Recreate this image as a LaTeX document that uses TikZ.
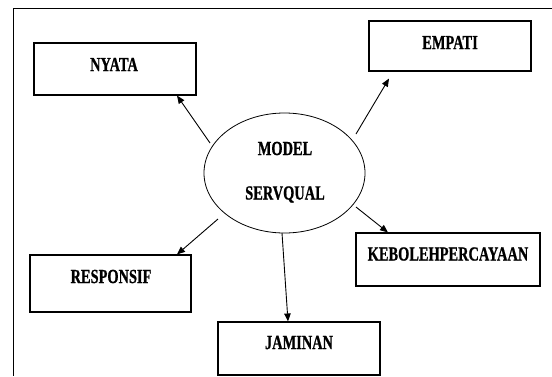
\documentclass[tikz,border=0pt]{standalone}
\usepackage{fontspec}
\setmainfont{Liberation Serif}
\newfontfamily\labfont[FakeStretch=0.72, FakeBold=0.8, UprightFont=* Bold]{Liberation Serif}
\usetikzlibrary{arrows.meta,shapes.geometric}
\tikzset{
  boxnode/.style={draw, line width=1.1pt, minimum width=#1, inner sep=0pt},
  lab/.style={font=\labfont\fontsize{20}{22}\selectfont, inner sep=0pt, anchor=center},
  arr/.style={line width=0.9pt, -{Triangle[length=8pt,width=6.5pt]}},
}
\begin{document}
\begin{tikzpicture}[x=1pt,y=-1pt]
\useasboundingbox (0,0) rectangle (552,376);
% frame
\coordinate (ftr) at (552,8);
\coordinate (ftl) at (13,8);
\coordinate (fbl) at (13,376);
\draw[line width=1pt] (ftr) -- (ftl) -- (fbl);
% boxes
\node[boxnode=162pt, minimum height=52pt] (nyata) at (115,69) {};
\node[boxnode=162pt, minimum height=50pt] (empati) at (450,46) {};
\node[boxnode=161pt, minimum height=57pt] (resp) at (110.5,283.5) {};
\node[boxnode=162pt, minimum height=53pt] (jam) at (299,348.5) {};
\node[boxnode=184pt, minimum height=53pt] (keb) at (448,259.5) {};
\node[draw, ellipse, line width=0.8pt, minimum width=161pt, minimum height=120pt, inner sep=0pt] (model) at (284.5,173) {};
% labels
\node[lab] (tnyata) at (114,64.5) {NYATA};
\node[lab] (tempati) at (450,42.5) {EMPATI};
\node[lab] (tresp) at (111,276.5) {RESPONSIF};
\node[lab] (tjam) at (299,342.5) {JAMINAN};
\node[lab] (tkeb) at (448,254) {KEBOLEHPERCAYAAN};
\node[lab] (tmodel) at (285,148.5) {MODEL};
\node[lab] (tserv) at (285,194.5) {SERVQUAL};
% arrow starts
\coordinate (s1) at (210,143);
\coordinate (s2) at (356,134);
\coordinate (s3) at (356,207);
\coordinate (s4) at (218,219);
\coordinate (s5) at (282,233);
\draw[arr] (s1) -- ([xshift=62pt]nyata.south);
\draw[arr] (s2) -- ([xshift=-61pt,yshift=-7pt]empati.south);
\draw[arr] (s3) -- ([xshift=-60pt]keb.north);
\draw[arr] (s4) -- ([xshift=66.5pt]resp.north);
\draw[arr] (s5) -- ([xshift=-11pt]jam.north);
\end{tikzpicture}
\end{document}
